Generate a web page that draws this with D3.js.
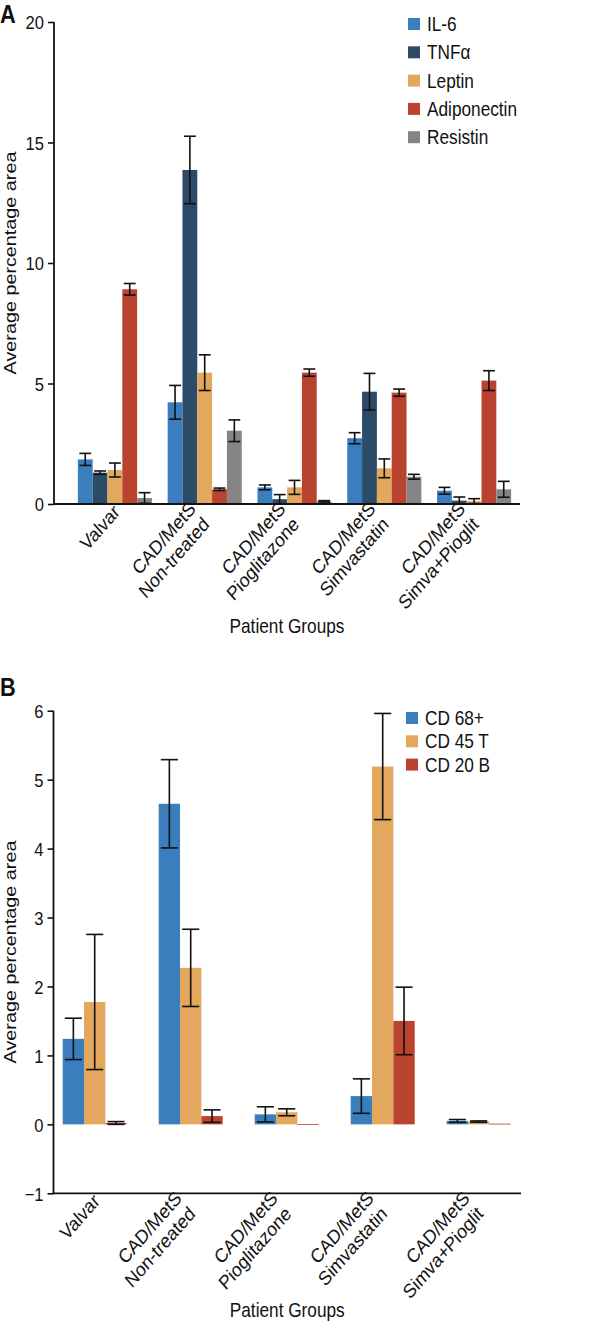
<!DOCTYPE html>
<html>
  <head>
    <title>Average percentage area by patient group</title>
    <script src="https://d3js.org/d3.v7.min.js" charset="utf-8"></script>
    <style>
      body {
        margin: 0;
        background: #fff;
      }
      svg text {
        font-family: "Liberation Sans", Arial, sans-serif;
        fill: #111;
      }
    </style>
  </head>
  <body>
    <svg id="chart"></svg>

    <script>
      // shared categories
      const groups = [
        ["Valvar"],
        ["CAD/MetS", "Non-treated"],
        ["CAD/MetS", "Pioglitazone"],
        ["CAD/MetS", "Simvastatin"],
        ["CAD/MetS", "Simva+Pioglit"],
      ];

      // panel A: adipokines / cytokines
      const seriesA = ["IL-6", "TNFα", "Leptin", "Adiponectin", "Resistin"];
      const colorsA = ["#3a7ebd", "#2b4b69", "#e3a75e", "#b9432f", "#858585"];
      const meanA = [
        [1.85, 4.22, 0.69, 2.73, 0.55],
        [1.3, 13.86, 0.2, 4.66, 0.14],
        [1.41, 5.45, 0.69, 1.48, 0.12],
        [8.91, 0.61, 5.45, 4.62, 5.12],
        [0.25, 3.04, 0.11, 1.13, 0.61],
      ];
      const errA = [
        [0.25, 0.7, 0.1, 0.23, 0.14],
        [0.07, 1.4, 0.19, 0.76, 0.15],
        [0.29, 0.74, 0.29, 0.39, 0.1],
        [0.24, 0.05, 0.15, 0.15, 0.41],
        [0.22, 0.45, 0.03, 0.1, 0.33],
      ];
      const ticksA = [0, 5, 10, 15, 20];

      // panel B: immune cells
      const seriesB = ["CD 68+", "CD 45 T", "CD 20 B"];
      const colorsB = ["#3a7ebd", "#e3a75e", "#b9432f"];
      const meanB = [
        [1.24, 4.65, 0.145, 0.41, 0.05],
        [1.775, 2.27, 0.175, 5.19, 0.04],
        [0.02, 0.12, 0.005, 1.5, 0.01],
      ];
      const errB = [
        [0.3, 0.64, 0.11, 0.25, 0.02],
        [0.98, 0.56, 0.05, 0.77, 0.01],
        [0.02, 0.09, 0, 0.49, 0],
      ];
      const ticksB = [-1, 0, 1, 2, 3, 4, 5, 6];

      // the figure is a bit narrower than tall, so glyphs look condensed
      const squeeze = "scale(0.871,1)";
      const fontSize = 19.8;

      const svg = d3.select("#chart").attr("width", 600).attr("height", 1328);

      function drawPanel(opt) {
        const g = svg.append("g");

        const y = d3.scaleLinear().domain(opt.yDomain).range(opt.yRange);
        const x0 = d3
          .scaleBand()
          .domain(d3.range(groups.length))
          .range(opt.xRange)
          .paddingInner(opt.padInner)
          .paddingOuter(opt.padInner / 2);
        const x1 = d3
          .scaleBand()
          .domain(d3.range(opt.series.length))
          .range([0, x0.bandwidth()]);
        const bw = x1.bandwidth();
        const axisY = y(opt.yDomain[0]);

        // bars + error bars
        opt.series.forEach((s, si) => {
          const rows = opt.means[si].map((v, gi) => ({
            gi: gi,
            v: v,
            e: opt.errs[si][gi],
          }));

          g.append("g")
            .selectAll("rect")
            .data(rows)
            .enter()
            .append("rect")
            .attr("x", (d) => x0(d.gi) + x1(si))
            .attr("y", (d) => y(d.v))
            .attr("width", bw)
            .attr("height", (d) => Math.max(0.8, y(0) - y(d.v)))
            .attr("fill", opt.colors[si]);

          const eb = g
            .append("g")
            .attr("stroke", "#111")
            .attr("stroke-width", 1.6)
            .selectAll("g")
            .data(rows.filter((d) => d.e > 0))
            .enter()
            .append("g")
            .attr("transform", (d) => `translate(${x0(d.gi) + x1(si) + bw / 2},0)`);
          const cap = bw * 0.4;
          eb.append("line")
            .attr("y1", (d) => y(d.v + d.e))
            .attr("y2", (d) => y(Math.max(opt.yDomain[0], d.v - d.e)));
          eb.append("line")
            .attr("x1", -cap)
            .attr("x2", cap)
            .attr("y1", (d) => y(d.v + d.e))
            .attr("y2", (d) => y(d.v + d.e));
          eb.append("line")
            .attr("x1", -cap)
            .attr("x2", cap)
            .attr("y1", (d) => y(d.v - d.e))
            .attr("y2", (d) => y(d.v - d.e));
        });

        // y axis
        const yAxis = g
          .append("g")
          .attr("transform", `translate(${opt.axisX},0)`)
          .call(
            d3
              .axisLeft(y)
              .tickValues(opt.ticks)
              .tickSize(6)
              .tickPadding(4)
              .tickFormat(d3.format("d"))
          );
        yAxis.select(".domain").remove();
        yAxis.selectAll("line").attr("stroke", "#111").attr("stroke-width", 1.6);
        yAxis
          .selectAll("text")
          .attr("x", null)
          .attr("dy", "0.36em")
          .attr("transform", `translate(-10,0) ${squeeze}`)
          .attr("font-size", 19)
          .style("font-family", '"Liberation Sans", Arial, sans-serif')
          .attr("fill", "#111");
        g.append("line")
          .attr("x1", opt.axisX)
          .attr("x2", opt.axisX)
          .attr("y1", y(opt.yDomain[1]))
          .attr("y2", axisY)
          .attr("stroke", "#111")
          .attr("stroke-width", 1.8);

        // x axis line
        g.append("line")
          .attr("x1", opt.axisX - 1)
          .attr("x2", opt.axisEnd)
          .attr("y1", axisY)
          .attr("y2", axisY)
          .attr("stroke", "#111")
          .attr("stroke-width", 1.8);

        // group labels, rotated
        groups.forEach((lines, gi) => {
          const cx = x0(gi) + x0.bandwidth() / 2;
          const tx = lines.length > 1 ? cx - 8 : cx + 6;
          const ty = lines.length > 1 ? axisY + 6 : axisY + 9;
          const t = g
            .append("text")
            .attr("transform", `translate(${tx},${ty}) ${squeeze} rotate(-45)`)
            .attr("text-anchor", "end")
            .attr("font-size", fontSize);
          lines.forEach((l, li) => {
            t.append("tspan")
              .attr("x", 0)
              .attr("dy", li === 0 ? 0 : 22)
              .text(l);
          });
        });

        // axis titles
        g.append("text")
          .attr(
            "transform",
            `translate(${(opt.axisX + opt.axisEnd) / 2},${opt.xTitleY}) ${squeeze}`
          )
          .attr("text-anchor", "middle")
          .attr("font-size", fontSize)
          .text("Patient Groups");

        g.append("text")
          .attr(
            "transform",
            `translate(16,${(opt.yRange[0] + opt.yRange[1]) / 2}) ${squeeze} rotate(-90)`
          )
          .attr("text-anchor", "middle")
          .attr("font-size", fontSize)
          .text("Average percentage area");

        // panel letter
        g.append("text")
          .attr("transform", `translate(0,${opt.letterY}) ${squeeze}`)
          .attr("font-size", 25)
          .attr("font-weight", "bold")
          .text(opt.letter);

        // legend
        const legend = g
          .append("g")
          .attr("transform", `translate(${opt.legendX},${opt.legendY})`);
        opt.series.forEach((s, i) => {
          const row = legend
            .append("g")
            .attr("transform", `translate(0, ${i * opt.legendStep})`);
          row.append("rect")
            .attr("y", -6)
            .attr("width", 12)
            .attr("height", 12)
            .attr("fill", opt.colors[i]);
          row.append("text")
            .attr("transform", `translate(19,7) ${squeeze}`)
            .attr("font-size", fontSize)
            .text(s);
        });
      }

      drawPanel({
        letter: "A",
        letterY: 23,
        series: seriesA,
        colors: colorsA,
        means: meanA,
        errs: errA,
        ticks: ticksA,
        yDomain: [0, 20],
        yRange: [504, 22],
        xRange: [70, 519],
        padInner: 0.175,
        axisX: 54,
        axisEnd: 520,
        xTitleY: 633,
        legendX: 408,
        legendY: 24,
        legendStep: 28.3,
      });

      drawPanel({
        letter: "B",
        letterY: 696,
        series: seriesB,
        colors: colorsB,
        means: meanB,
        errs: errB,
        ticks: ticksB,
        yDomain: [-1, 6],
        yRange: [1193.3, 710.7],
        xRange: [46.7, 526.7],
        padInner: 0.333,
        axisX: 53.5,
        axisEnd: 521,
        xTitleY: 1317,
        legendX: 406,
        legendY: 718,
        legendStep: 23.3,
      });
    </script>
  </body>
</html>
